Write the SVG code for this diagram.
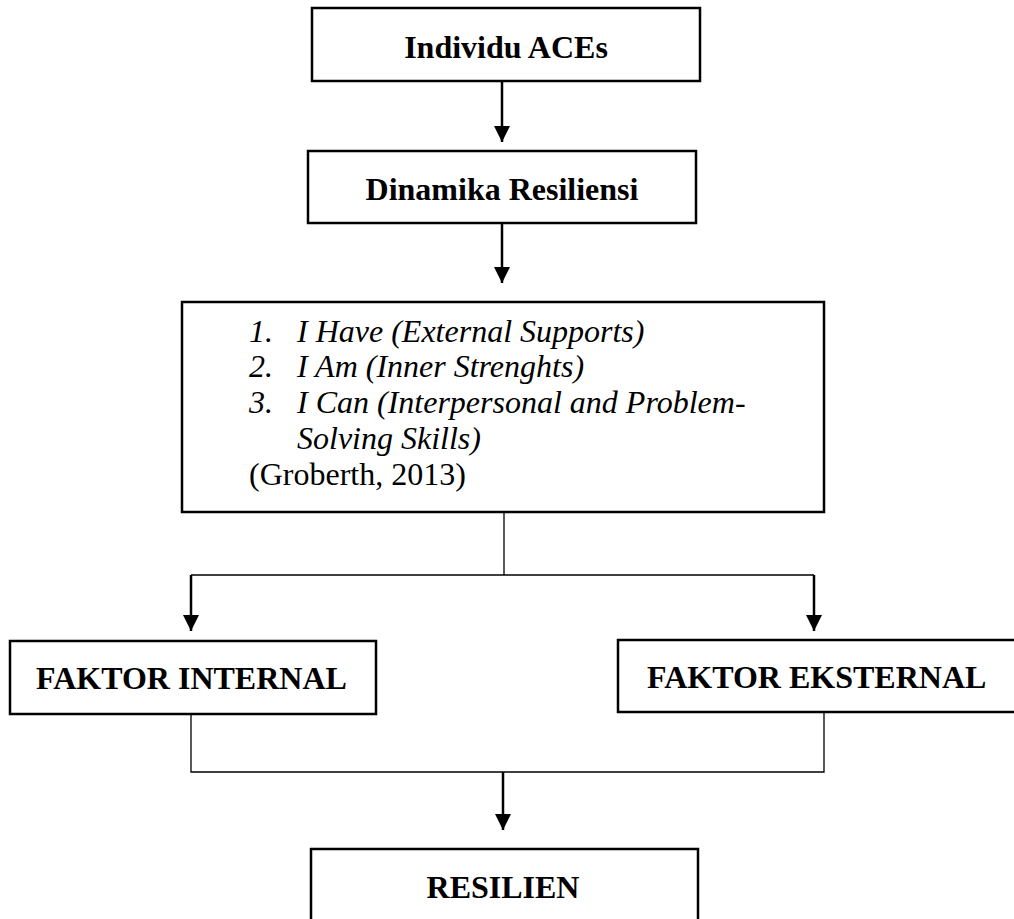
<svg xmlns="http://www.w3.org/2000/svg" width="1014" height="919" viewBox="0 0 1014 919">
<style>
.box{fill:#fff;stroke:#000;stroke-width:2.5}
.b{font-family:"Liberation Serif","Times New Roman",serif;font-weight:bold;font-size:32px;fill:#000}
.i{font-family:"Liberation Serif","Times New Roman",serif;font-style:italic;font-size:32px;fill:#000}
.r{font-family:"Liberation Serif","Times New Roman",serif;font-size:32px;fill:#000}
.arr{stroke:#000;stroke-width:2.5;fill:none;marker-end:url(#ah)}
.ln{stroke:#000;stroke-width:1.3;fill:none}
</style>
<defs>
<marker id="ah" markerUnits="userSpaceOnUse" markerWidth="16" markerHeight="16" viewBox="0 0 16 16" refX="16" refY="8" orient="auto">
<path d="M0,0 L16,8 L0,16 z" fill="#000"/>
</marker>
</defs>
<rect width="1014" height="919" fill="#fff"/>
<g id="connectors">
<line class="arr" x1="502" y1="81" x2="502" y2="142"/>
<line class="arr" x1="502" y1="223" x2="502" y2="283"/>
<polyline class="ln" points="504,512 504,575"/>
<polyline class="ln" points="191,575 814,575"/>
<line class="arr" x1="191" y1="575" x2="191" y2="631"/>
<line class="arr" x1="814" y1="575" x2="814" y2="631"/>
<polyline class="ln" points="191,714 191,772 824,772 824,712"/>
<line class="arr" x1="503" y1="772" x2="503" y2="830"/>
</g>
<g id="individu">
<rect class="box" x="312" y="8" width="388" height="73"/>
<text class="b" x="506" y="58" text-anchor="middle">Individu ACEs</text>
</g>
<g id="dinamika">
<rect class="box" x="308" y="151" width="388" height="72"/>
<text class="b" x="502" y="200" text-anchor="middle">Dinamika Resiliensi</text>
</g>
<g id="aspek">
<rect class="box" x="182" y="302" width="642" height="210"/>
<text class="i" x="249" y="342">1.</text>
<text class="i" x="297" y="342">I Have (External Supports)</text>
<text class="i" x="249" y="377">2.</text>
<text class="i" x="297" y="377">I Am (Inner Strenghts)</text>
<text class="i" x="249" y="413">3.</text>
<text class="i" x="297" y="413">I Can (Interpersonal and Problem-</text>
<text class="i" x="297" y="449">Solving Skills)</text>
<text class="r" x="249" y="485">(Groberth, 2013)</text>
</g>
<g id="internal">
<rect class="box" x="10" y="641" width="366" height="73"/>
<text class="b" x="36" y="689">FAKTOR INTERNAL</text>
</g>
<g id="eksternal">
<rect class="box" x="618" y="640" width="400" height="72"/>
<text class="b" x="647" y="688">FAKTOR EKSTERNAL</text>
</g>
<g id="resilien">
<rect class="box" x="311" y="849" width="387" height="80"/>
<text class="b" x="503" y="898" text-anchor="middle">RESILIEN</text>
</g>
</svg>
